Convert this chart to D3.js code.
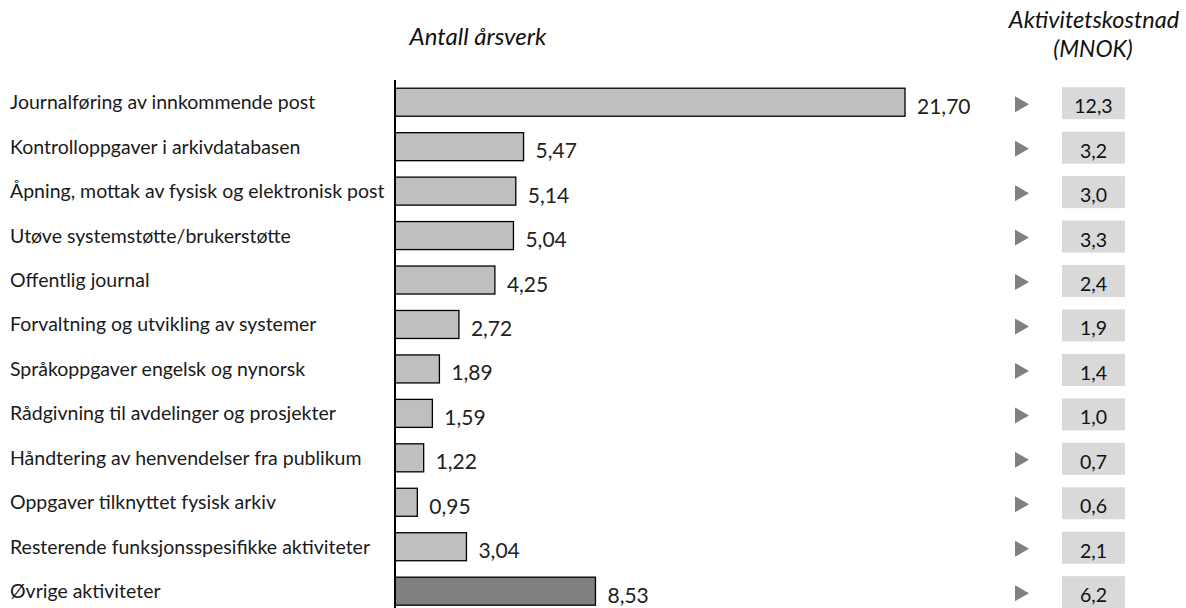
<!DOCTYPE html>
<html>
<head>
<meta charset="utf-8">
<script src="https://cdn.jsdelivr.net/npm/d3@7"></script>
<style>
  html, body { margin: 0; padding: 0; background: #fff; }
  svg { display: block; font-family: Lato, "Open Sans", sans-serif; }
</style>
</head>
<body>
<svg id="chart" width="1186" height="608"></svg>
<script>
// Activities, FTEs (årsverk) and activity cost (MNOK)
const categories = [
  "Journalføring av innkommende post",
  "Kontrolloppgaver i arkivdatabasen",
  "Åpning, mottak av fysisk og elektronisk post",
  "Utøve systemstøtte/brukerstøtte",
  "Offentlig journal",
  "Forvaltning og utvikling av systemer",
  "Språkoppgaver engelsk og nynorsk",
  "Rådgivning til avdelinger og prosjekter",
  "Håndtering av henvendelser fra publikum",
  "Oppgaver tilknyttet fysisk arkiv",
  "Resterende funksjonsspesifikke aktiviteter",
  "Øvrige aktiviteter"
];
const aarsverk = [21.70, 5.47, 5.14, 5.04, 4.25, 2.72, 1.89, 1.59, 1.22, 0.95, 3.04, 8.53];
const kostnad = [12.3, 3.2, 3.0, 3.3, 2.4, 1.9, 1.4, 1.0, 0.7, 0.6, 2.1, 6.2];
const highlighted = ["Øvrige aktiviteter"];

const rows = categories.map((c, i) => ({ name: c, fte: aarsverk[i], cost: kostnad[i] }));
const fmt2 = v => d3.format(".2f")(v).replace(".", ",");
const fmt1 = v => d3.format(".1f")(v).replace(".", ",");

const svg = d3.select("#chart");

const y = d3.scaleBand()
  .domain(categories)
  .range([80, 613.4])
  .paddingInner(0.37)
  .paddingOuter(0.185);
const mid = d => y(d.name) + y.bandwidth() / 2;

const x = d3.scaleLinear().domain([0, 21.70]).range([395, 905]);

// Column headings
const heading = (tx, ty, size, label) => svg.append("text")
  .attr("x", tx).attr("y", ty)
  .attr("text-anchor", "middle")
  .attr("font-style", "italic")
  .attr("font-size", size)
  .attr("fill", "#111")
  .text(label);

heading(478, 45, 24, "Antall årsverk");
heading(1094, 28, 23.5, "Aktivitetskostnad");
heading(1093, 57, 23, "(MNOK)");

// Category labels
svg.append("g")
  .selectAll("text")
  .data(rows)
  .join("text")
  .attr("x", 10)
  .attr("y", d => mid(d) + 7)
  .attr("font-size", 19.5)
  .attr("fill", "#1a1a1a")
  .text(d => d.name);

// Bars
svg.append("g")
  .selectAll("rect")
  .data(rows)
  .join("rect")
  .attr("x", x(0))
  .attr("y", d => y(d.name))
  .attr("width", d => x(d.fte) - x(0))
  .attr("height", y.bandwidth())
  .attr("fill", d => highlighted.includes(d.name) ? "#808080" : "#bfbfbf")
  .attr("stroke", "#000")
  .attr("stroke-width", 1.3);

// Vertical axis line
svg.append("line")
  .attr("x1", x(0)).attr("x2", x(0))
  .attr("y1", 80).attr("y2", 608)
  .attr("stroke", "#000")
  .attr("stroke-width", 2);

// Value labels
svg.append("g")
  .selectAll("text")
  .data(rows)
  .join("text")
  .attr("x", d => x(d.fte) + 12)
  .attr("y", d => mid(d) + 11.5)
  .attr("font-size", 21)
  .attr("fill", "#222")
  .text(d => fmt2(d.fte));

// Arrow markers
svg.append("g")
  .selectAll("path")
  .data(rows)
  .join("path")
  .attr("transform", d => `translate(1022,${mid(d) + 2})`)
  .attr("d", "M-7,-8L7,0L-7,8Z")
  .attr("fill", "#808080");

// Cost boxes
const boxes = svg.append("g")
  .selectAll("g")
  .data(rows)
  .join("g")
  .attr("transform", d => `translate(1062,${mid(d) + 1})`);

boxes.append("rect")
  .attr("x", 0).attr("y", -16)
  .attr("width", 63).attr("height", 32)
  .attr("fill", "#d9d9d9");

boxes.append("text")
  .attr("x", 31.5).attr("y", 10)
  .attr("text-anchor", "middle")
  .attr("font-size", 19.5)
  .attr("fill", "#111")
  .text(d => fmt1(d.cost));
</script>
</body>
</html>
